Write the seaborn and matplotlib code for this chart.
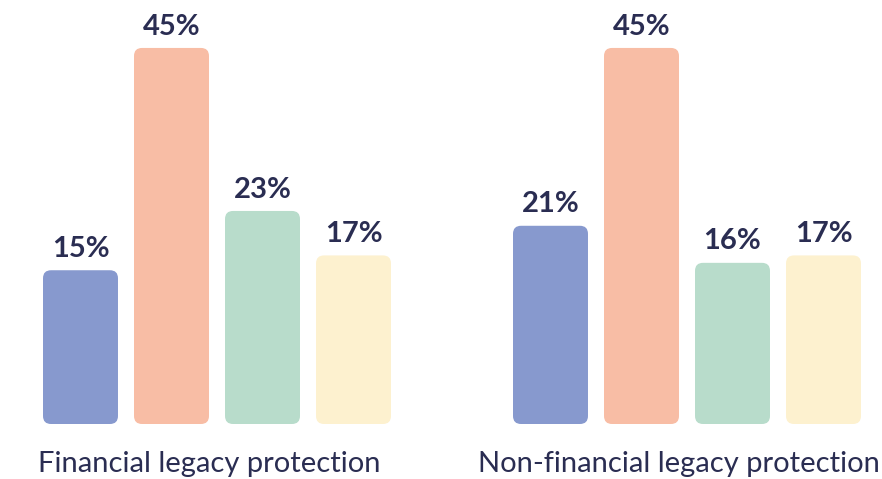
import matplotlib
matplotlib.use("Agg")
import matplotlib.pyplot as plt
import seaborn as sns
import pandas as pd
from matplotlib.patches import FancyBboxPatch

# ---- data ----
groups = ["Financial legacy protection", "Non-financial legacy protection"]
segments = ["S1", "S2", "S3", "S4"]
financial = [15, 45, 23, 17]
non_financial = [21, 45, 16, 17]
palette = ["#8799CE", "#F8BDA5", "#B8DCCB", "#FDF1CF"]
text_color = "#2A2D52"

sns.set_theme(style="white")
plt.rcParams['font.family'] = ['Lato', 'DejaVu Sans']

W, H = 882, 479
fig = plt.figure(figsize=(W / 100, H / 100), dpi=100)
fig.patch.set_facecolor("white")

base = -5.75  # visual baseline offset of the bars
px_per_y = 7.41
ymax = base + 420 / px_per_y
bar_w = 0.824
px_per_x = 348 / (3 + bar_w)
radius_px = 8

axes_left = [43, 513]
label_centers = [209.5, 679]

for gi, (name, vals) in enumerate(zip(groups, [financial, non_financial])):
    ax = fig.add_axes([axes_left[gi] / W, (H - 424) / H, 348 / W, 420 / H])
    df = pd.DataFrame({"segment": segments, "value": vals})
    sns.barplot(data=df, x="segment", y="value", hue="segment", palette=palette,
                width=bar_w, legend=False, ax=ax, saturation=1, errorbar=None)
    ax.set_xlim(-bar_w / 2, 3 + bar_w / 2)
    ax.set_ylim(base, ymax)
    rx = radius_px / px_per_x
    ry = radius_px / px_per_y
    for p, v in zip(list(ax.patches), vals):
        x, w, h = p.get_x(), p.get_width(), p.get_height()
        fc = p.get_facecolor()
        p.set_visible(False)
        fb = FancyBboxPatch((x, base), w, h - base,
                            boxstyle=f"round,pad=0,rounding_size={rx}",
                            mutation_aspect=ry / rx,
                            facecolor=fc, edgecolor="none", linewidth=0)
        ax.add_patch(fb)
        ax.annotate(f"{v}%", (x + w / 2, h), xytext=(0, 6), textcoords="offset points",
                    ha="center", va="bottom", fontsize=21, fontweight="bold",
                    color=text_color, annotation_clip=False)
    ax.set_xticks([])
    ax.set_yticks([])
    ax.set_xlabel("")
    ax.set_ylabel("")
    for s in ax.spines.values():
        s.set_visible(False)
    ax.patch.set_alpha(0)
    fig.text(label_centers[gi] / W, (H - 472) / H, name, ha="center", va="baseline",
             fontsize=21, color=text_color)

fig.savefig("out.png", dpi=100, facecolor="white")
